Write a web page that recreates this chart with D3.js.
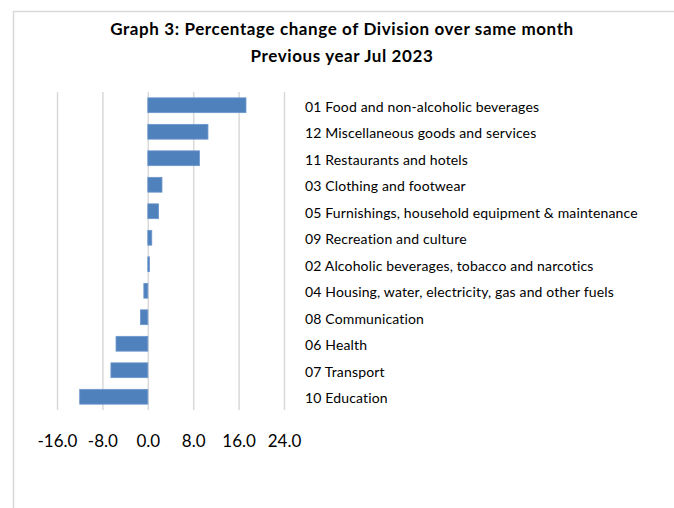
<!DOCTYPE html>
<html>
<head>
<meta charset="utf-8">
<script src="https://cdn.jsdelivr.net/npm/d3@7"></script>
<style>
  body { margin: 0; background: #fff; }
  svg { display: block; }
</style>
</head>
<body>
<div id="container"></div>
<script>
// data
const categories = [
  "01 Food and non-alcoholic beverages",
  "12 Miscellaneous goods and services",
  "11 Restaurants and hotels",
  "03 Clothing and footwear",
  "05 Furnishings, household equipment & maintenance",
  "09 Recreation and culture",
  "02 Alcoholic beverages, tobacco and narcotics",
  "04 Housing, water, electricity, gas and other fuels",
  "08 Communication",
  "06 Health",
  "07 Transport",
  "10 Education"
];
const values = [17.3, 10.6, 9.1, 2.5, 1.9, 0.7, 0.3, -0.7, -1.3, -5.6, -6.5, -12.0];
const xTicks = [-16, -8, 0, 8, 16, 24];
const titleLines = ["Graph 3: Percentage change of Division over same month", "Previous year Jul 2023"];

const w = 674, h = 508;
const font = "Lato, 'Open Sans', sans-serif";

const svg = d3.select("#container")
  .append("svg")
  .attr("width", w)
  .attr("height", h);

// chart frame (only top and left edges show)
svg.append("path")
  .attr("d", "M13.5,508 V11.5 H674")
  .attr("fill", "none")
  .attr("stroke", "#d9d9d9")
  .attr("stroke-width", 1.5);

// title
svg.selectAll("text.title")
  .data(titleLines)
  .enter()
  .append("text")
  .attr("class", "title")
  .attr("x", 342)
  .attr("y", (d, i) => 35 + i * 27)
  .attr("text-anchor", "middle")
  .style("font-family", font)
  .style("font-weight", "bold")
  .style("font-size", "17px")
  .style("letter-spacing", "0.6px")
  .text(d => d);

// scales
const xScale = d3.scaleLinear()
  .domain([-16, 24])
  .range([57, 284]);

const yScale = d3.scaleBand()
  .domain(categories)
  .range([92, 410])
  .paddingInner(0.44)
  .paddingOuter(0.22);

// gridlines
svg.append("g")
  .attr("transform", "translate(0,410)")
  .call(d3.axisBottom(xScale).tickValues(xTicks).tickSize(-318).tickFormat(""))
  .call(g => g.select(".domain").remove())
  .call(g => g.selectAll("line").attr("stroke", "#d9d9d9").attr("stroke-width", 1.5));

// bars
svg.selectAll("rect.bar")
  .data(values)
  .enter()
  .append("rect")
  .attr("class", "bar")
  .attr("x", d => xScale(Math.min(0, d)))
  .attr("y", (d, i) => yScale(categories[i]))
  .attr("width", d => Math.abs(xScale(d) - xScale(0)))
  .attr("height", yScale.bandwidth())
  .attr("fill", "#4f81bd")
  .attr("stroke", "#6d97cc")
  .attr("stroke-width", 0.8);

// x axis labels
svg.append("g")
  .attr("transform", "translate(0,432)")
  .call(d3.axisBottom(xScale).tickValues(xTicks).tickSize(0).tickFormat(d => d.toFixed(1)))
  .call(g => g.select(".domain").remove())
  .call(g => g.selectAll("text")
    .attr("fill", "#000")
    .style("font-family", font)
    .style("font-size", "17px"));

// category labels on the right
svg.append("g")
  .attr("transform", "translate(299,0)")
  .call(d3.axisRight(yScale).tickSize(0))
  .call(g => g.select(".domain").remove())
  .call(g => g.selectAll("text")
    .attr("fill", "#000")
    .attr("x", 6)
    .attr("dy", "0.45em")
    .style("font-family", font)
    .style("font-size", "14px")
    .style("letter-spacing", "0.15px"));
</script>
</body>
</html>
